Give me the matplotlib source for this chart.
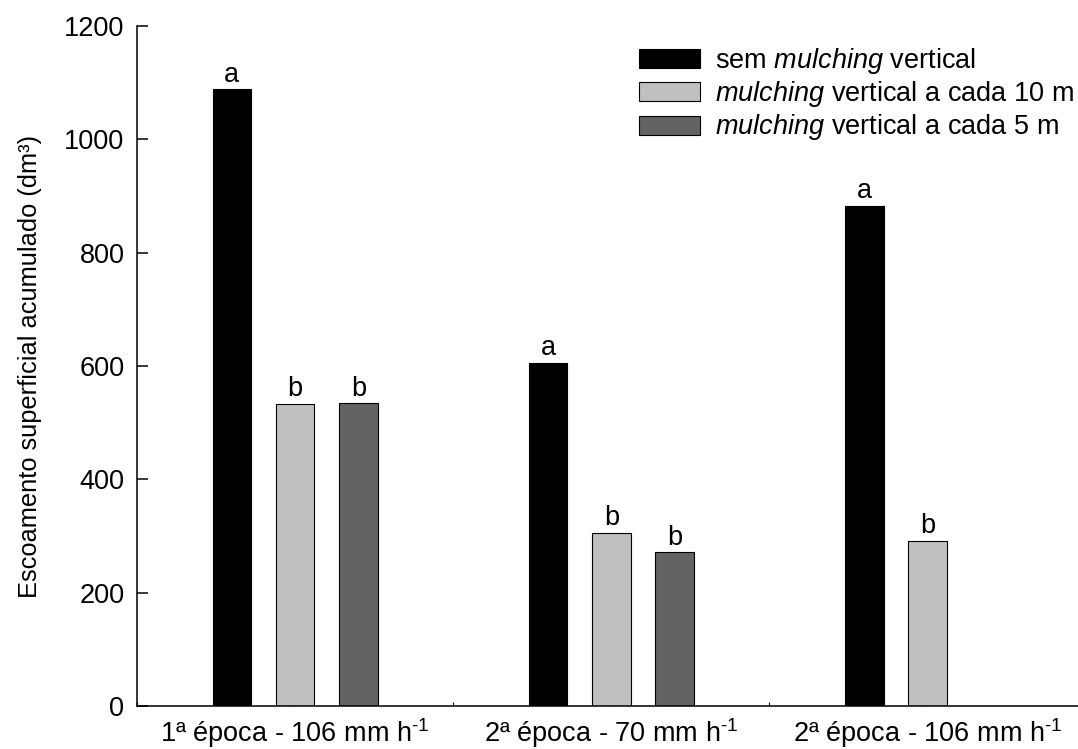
import numpy as np
import matplotlib
matplotlib.use("Agg")
import matplotlib.pyplot as plt

plt.rcParams['font.family'] = ['Liberation Sans', 'DejaVu Sans']
plt.rcParams['mathtext.fontset'] = 'custom'
plt.rcParams['mathtext.rm'] = 'Liberation Sans'
plt.rcParams['mathtext.it'] = 'Liberation Sans:italic'
plt.rcParams['font.size'] = 19.5

# Data
groups = [r"1ª época - 106 mm h$^{\text{-1}}$",
          r"2ª época - 70 mm h$^{\text{-1}}$",
          r"2ª época - 106 mm h$^{\text{-1}}$"]
series_names = [r"sem $\mathit{mulching}$ vertical",
                r"$\mathit{mulching}$ vertical a cada 10 m",
                r"$\mathit{mulching}$ vertical a cada 5 m"]
sem_mulching = [1088, 606, 883]
mulching_10m = [533, 306, 291]
mulching_5m = [534, 271, np.nan]
letters_sem = ["a", "a", "a"]
letters_10m = ["b", "b", "b"]
letters_5m = ["b", "b", ""]

colors = ["#000000", "#c0c0c0", "#636363"]
values = [sem_mulching, mulching_10m, mulching_5m]
letters = [letters_sem, letters_10m, letters_5m]

fig = plt.figure(figsize=(10.78, 7.49), dpi=100)
ax = fig.add_axes([137 / 1078, 43 / 749, 941 / 1078, 680 / 749])

x = np.arange(len(groups))
offsets = [-0.2, 0.0, 0.2]
width = 0.122

for vals, col, off, lets, name in zip(values, colors, offsets, letters, series_names):
    ax.bar(x + off, vals, width, color=col, edgecolor='black',
           linewidth=0.8, label=name, zorder=2)
    for xi, v, t in zip(x + off, vals, lets):
        if t and not np.isnan(v):
            ax.annotate(t, (xi, v), xytext=(0, 5.5), textcoords='offset points',
                        ha='center', va='baseline')

ax.set_xlim(-0.5, 2.476)
ax.set_ylim(0, 1200)
ax.set_yticks(np.arange(0, 1201, 200))
ax.set_xticks(x)
ax.set_xticklabels(groups)
ax.set_xticks([-0.5, 0.5, 1.5], minor=True)

for side in ['top', 'right']:
    ax.spines[side].set_visible(False)
for side in ['left', 'bottom']:
    ax.spines[side].set_linewidth(1.1)

ax.tick_params(axis='y', direction='in', length=8, width=1.1, pad=9)
ax.tick_params(axis='x', which='major', direction='in', length=3, width=0.8, pad=7)
ax.tick_params(axis='x', which='minor', direction='in', length=3, width=0.8)

ax.set_ylabel("Escoamento superficial acumulado (dm³)", fontsize=18.3, labelpad=16)

ax.legend(loc='upper left', bbox_to_anchor=(639 / 1078, 1 - 46 / 749),
          bbox_transform=fig.transFigure, frameon=False,
          handlelength=2.26, handleheight=0.7, handletextpad=0.55,
          labelspacing=0.12, borderaxespad=0, borderpad=0)

fig.savefig("out.png", dpi=100)
